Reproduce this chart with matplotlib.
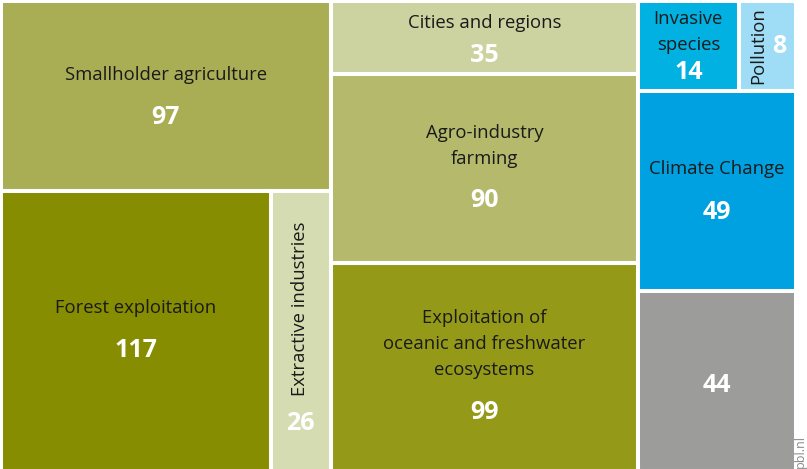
import matplotlib.pyplot as plt
from matplotlib.patches import Rectangle

plt.rcParams['font.family'] = ['Open Sans', 'DejaVu Sans']

labels = ["Smallholder agriculture", "Forest exploitation", "Extractive industries",
          "Cities and regions", "Agro-industry\nfarming",
          "Exploitation of\noceanic and freshwater\necosystems",
          "Invasive\nspecies", "Pollution", "Climate Change", ""]
values = [97, 117, 26, 35, 90, 99, 14, 8, 49, 44]

# treemap structure: columns -> rows -> cells (indices into labels/values)
groups = [[[0], [1, 2]], [[3], [4], [5]], [[6, 7], [8], [9]]]

colors = ["#a9ae55", "#878d00", "#d6dcb1", "#cdd3a0", "#b4b96b",
          "#949a18", "#00b1e1", "#9fddf6", "#00a1e0", "#9c9d9b"]

# text offsets from the cell centre in pixels: label dx, dy, number dx, dy, label rotation
text_pos = [(0, -21, 0, 22, 0), (0, -23, 0, 20, 0), (-1, -22, 0, 93, 90),
            (0, -15, 0, 18, 0), (0, -23, 0, 32, 0), (0, -23, 0, 45, 0),
            (0, -14, 0, 27, 0), (-9, 0, 12, 1, 90), (0, -22, 0, 21, 0),
            (0, 0, 0, 4, 0)]

fig = plt.figure(figsize=(8.07, 4.69), dpi=100)
ax = fig.add_axes([1 / 807, -2 / 469, 795 / 807, 470 / 469])
total = sum(values)
ax.set_xlim(0, total)
ax.set_ylim(1, 0)
ax.axis("off")

# slice-and-dice layout
x0 = 0
for col in groups:
    col_sum = sum(values[i] for row in col for i in row)
    y0 = 0
    for row in col:
        row_sum = sum(values[i] for i in row)
        h = row_sum / col_sum
        cx = x0
        for i in row:
            w = col_sum * values[i] / row_sum
            ax.add_patch(Rectangle((cx, y0), w, h, facecolor=colors[i],
                                   edgecolor="white", linewidth=2.9))
            xc, yc = cx + w / 2, y0 + h / 2
            ldx, ldy, ndx, ndy, rot = text_pos[i]
            if labels[i]:
                ax.annotate(labels[i], (xc, yc), xytext=(ldx * 0.72, -ldy * 0.72),
                            textcoords="offset points", ha="center", va="center",
                            fontsize=13.3, color="#1a1a1a", rotation=rot,
                            linespacing=1.55)
            ax.annotate(str(values[i]), (xc, yc), xytext=(ndx * 0.72, -ndy * 0.72),
                        textcoords="offset points", ha="center", va="center",
                        fontsize=18, fontweight="bold", color="white")
            cx += w
        y0 += h
    x0 += col_sum

fig.text(800 / 807, 0.003, "pbl.nl", rotation=90, ha="center", va="bottom",
         fontsize=9, color="#8a8a8a")

plt.savefig("out.png", dpi=100)
